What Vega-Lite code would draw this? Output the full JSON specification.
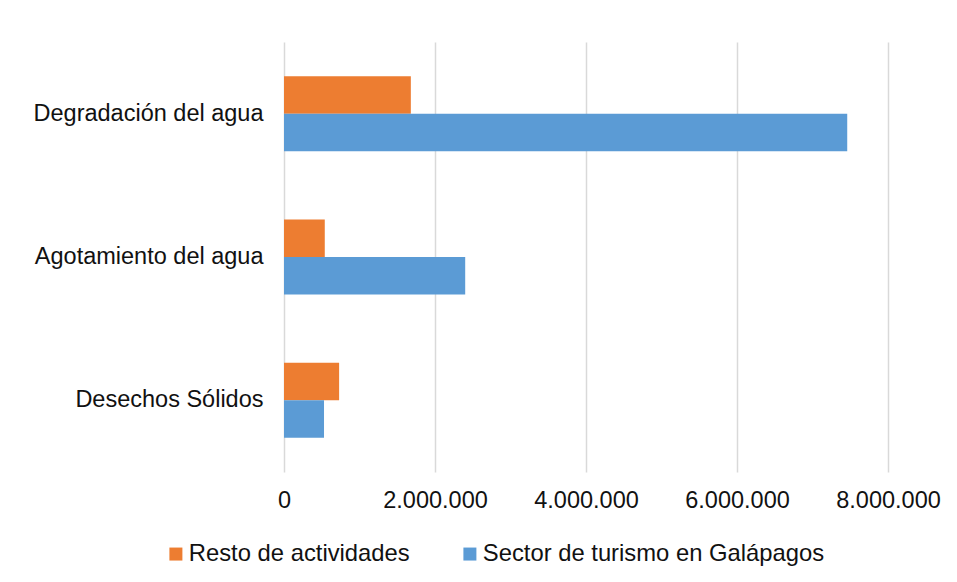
{
  "$schema": "https://vega.github.io/schema/vega-lite/v6.json",
  "width": 604,
  "height": 430,
  "padding": {"left": 33, "top": 42, "right": 10, "bottom": 10},
  "background": "white",
  "config": {
    "locale": {"number": {"decimal": ",", "thousands": ".", "grouping": [3], "currency": ["", " €"]}},
    "view": {"stroke": null},
    "font": "Liberation Sans"
  },
  "data": {
    "values": [
      {"categoria": "Degradación del agua", "serie": "Resto de actividades", "valor": 1680000},
      {"categoria": "Degradación del agua", "serie": "Sector de turismo en Galápagos", "valor": 7460000},
      {"categoria": "Agotamiento del agua", "serie": "Resto de actividades", "valor": 540000},
      {"categoria": "Agotamiento del agua", "serie": "Sector de turismo en Galápagos", "valor": 2400000},
      {"categoria": "Desechos Sólidos", "serie": "Resto de actividades", "valor": 730000},
      {"categoria": "Desechos Sólidos", "serie": "Sector de turismo en Galápagos", "valor": 530000}
    ]
  },
  "mark": {"type": "bar"},
  "encoding": {
    "y": {
      "field": "categoria",
      "type": "nominal",
      "sort": ["Degradación del agua", "Agotamiento del agua", "Desechos Sólidos"],
      "scale": {"paddingInner": 0.477, "paddingOuter": 0.2385},
      "axis": {
        "title": null,
        "domain": false,
        "ticks": false,
        "labelFont": "Liberation Sans",
        "labelFontSize": 23.5,
        "labelColor": "#111111",
        "labelPadding": 21,
        "labelLimit": 400
      }
    },
    "yOffset": {
      "field": "serie",
      "type": "nominal",
      "sort": ["Resto de actividades", "Sector de turismo en Galápagos"],
      "scale": {"paddingInner": 0, "paddingOuter": 0}
    },
    "x": {
      "field": "valor",
      "type": "quantitative",
      "scale": {"domain": [0, 8000000], "nice": false},
      "axis": {
        "title": null,
        "values": [0, 2000000, 4000000, 6000000, 8000000],
        "format": ",d",
        "domain": false,
        "ticks": false,
        "grid": true,
        "gridColor": "#d9d9d9",
        "gridWidth": 1.5,
        "labelFont": "Liberation Sans",
        "labelFontSize": 23.5,
        "labelColor": "#111111",
        "labelPadding": 16,
        "labelFlush": false
      }
    },
    "color": {
      "field": "serie",
      "type": "nominal",
      "scale": {
        "domain": ["Resto de actividades", "Sector de turismo en Galápagos"],
        "range": ["#ED7D31", "#5B9BD5"]
      },
      "legend": {
        "title": null,
        "orient": "none",
        "direction": "horizontal",
        "legendX": -120,
        "legendY": 500,
        "symbolType": "square",
        "symbolSize": 169,
        "symbolStrokeWidth": 0,
        "labelFont": "Liberation Sans",
        "labelFontSize": 23.8,
        "labelColor": "#111111",
        "labelOffset": 1,
        "columnPadding": 48,
        "labelLimit": 500
      }
    }
  }
}
